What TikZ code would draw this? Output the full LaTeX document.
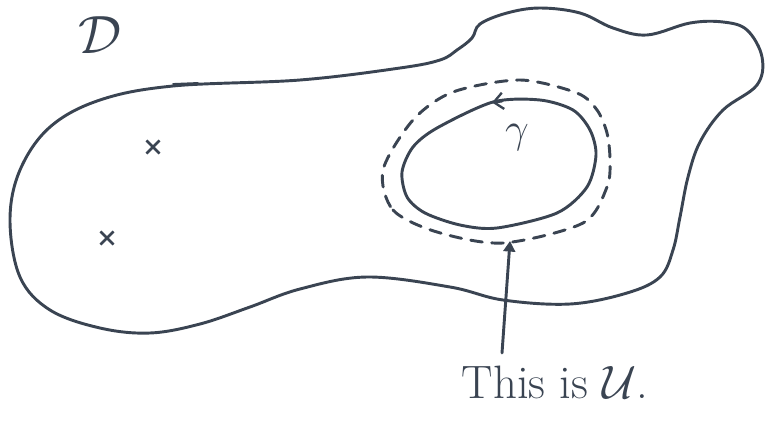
\RequirePackage{fix-cm}
\documentclass[tikz,border=0pt]{standalone}
\usetikzlibrary{arrows.meta,shapes.misc}
\definecolor{ink}{RGB}{58,68,82}
\begin{document}
\begin{tikzpicture}[x=0.03cm,y=-0.03cm,
	pen/.style={line width=2.5pt,color=ink,line cap=round,line join=round},
	crossmark/.style={draw=ink,cross out,line width=2.2pt,minimum size=9pt,inner sep=0pt}]
	\useasboundingbox (0,0) rectangle (768,422);
	
	%Domain D
	\draw[pen] plot[smooth cycle,tension=0.6] coordinates {
		(10,220) (20,170) (50,127) (100,100) (173,86) (300,80) (400,68) (440,60)
		(457,50) (472,38) (480,24) (507,13) (540,8) (580,13) (613,28) (647,35)
		(690,23) (723,22) (747,30) (762,57) (757,85) (723,110) (700,142) (688,177)
		(680,217) (673,250) (660,277) (627,293) (570,304) (503,300) (450,287)
		(367,277) (300,289) (250,307) (200,324) (150,333) (100,328) (50,310) (20,277)};
	\draw[pen,line width=1.6pt] (173,84)--(198,83);
	\node[text=ink,inner sep=0pt] at (100,35) (dlabel) {\fontsize{46}{54}\selectfont$\mathcal{D}$};
	
	%Points
	\node[crossmark] at (153,147) (p1) {};
	\node[crossmark] at (107,238) (p2) {};
	
	%Set U (dashed)
	\draw[pen,dash pattern=on 10pt off 8pt] plot[smooth cycle] coordinates {
		(383,170) (393,210) (437,232) (503,243) (583,223) (607,187) (610,160)
		(607,133) (597,110) (577,93) (520,80) (453,92) (413,120)};
	
	%Loop gamma
	\draw[pen] plot[smooth cycle] coordinates {
		(402,172) (407,197) (425,213) (460,225) (497,228) (557,213) (587,187)
		(596,155) (590,130) (573,110) (540,100) (493,102) (437,128) (413,147)};
	\draw[pen,-{Straight Barb[length=8pt,width=14pt,line width=2pt]}] (502,101) -- (492,102.5);
	\node[text=ink,inner sep=0pt] at (517,138) (gammalabel) {\fontsize{36}{42}\selectfont$\gamma$};
	
	%Label with arrow
	\node[text=ink,anchor=base,inner sep=0pt] at (555,398) (ulabel) {\fontsize{40}{48}\selectfont This is $\mathcal{U}$.};
	\coordinate (utail) at (502,353);
	\coordinate (utip) at (510,241);
	\draw[pen,-{Triangle[length=9pt,width=10pt]}] (utail) -- (utip);
	
\end{tikzpicture}
\end{document}
